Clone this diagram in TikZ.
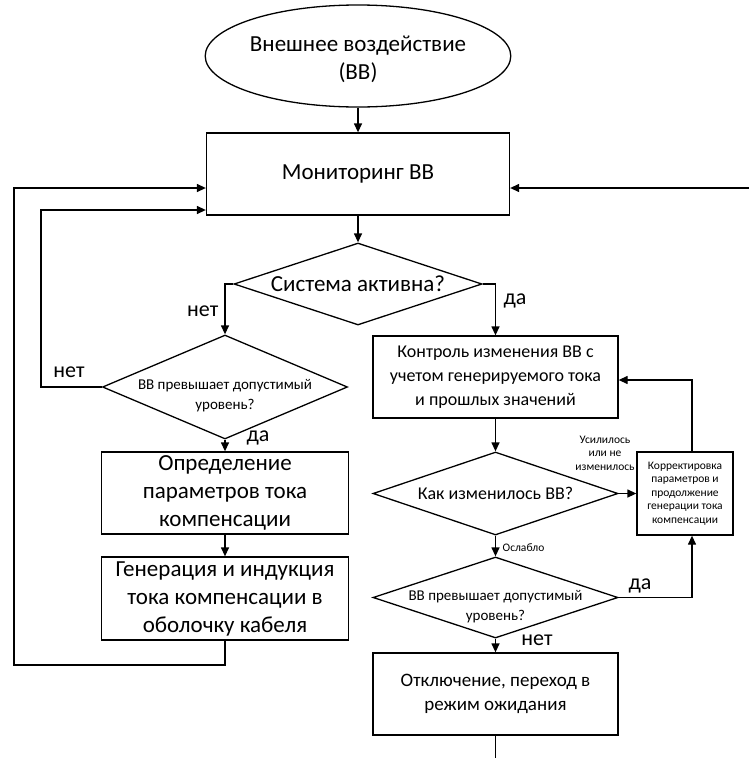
\documentclass[tikz,border=0pt]{standalone}
\usepackage{fontspec}
\setmainfont{Carlito}
\usetikzlibrary{shapes.geometric,arrows.meta}

\begin{document}
\begin{tikzpicture}[x=1pt,y=-1pt,line width=1.3pt,
  fs/.style 2 args={font=\fontsize{#1}{#2}\selectfont},
  box/.style={draw,rectangle,inner sep=0pt,align=center},
  dia/.style={draw,diamond,inner sep=0pt},
  oval/.style={draw,ellipse,inner sep=0pt,align=center},
  arr/.style={-{Triangle[length=9pt,width=8pt]}},
  qsmall/.style={fs={15}{20},align=center,yshift=-9pt},
  tag/.style={inner sep=1pt,fs={22}{24}},
  tiny/.style={inner sep=1pt,align=center,fs={11.5}{13.5}}]
\useasboundingbox (0,0) rectangle (749,758);

% start event
\node[oval,fs={23}{27},minimum width=302,minimum height=102,
  text depth=0pt] (ve) at (358,56)
  {\raisebox{-3pt}{\shortstack{Внешнее воздействие\\[4pt](ВВ)}}};
% monitoring
\node[box,fs={23}{27},minimum width=303,minimum height=82] (mon) at (358,174) {Мониторинг ВВ};
% is the system active
\node[dia,minimum width=248,minimum height=82,
  label={[fs={23}{27}]center:Система активна?}] (d1) at (358,284) {};

% left branch
\node[dia,minimum width=245,minimum height=104,
  label={[qsmall]center:{ВВ превышает допустимый\\уровень?}}] (d2) at (225,387) {};
\node[box,fs={23}{28},minimum width=247,minimum height=82] (opr) at (225,493)
  {Определение\\параметров тока\\компенсации};
\node[box,fs={23}{28},minimum width=247,minimum height=83] (gen) at (225,598.5)
  {Генерация и индукция\\тока компенсации в\\оболочку кабеля};

% right branch
\node[box,fs={18}{24},minimum width=245,minimum height=82] (ctl) at (495.5,377)
  {Контроль изменения ВВ с\\учетом генерируемого тока\\и прошлых значений};
\node[dia,minimum width=245,minimum height=83,
  label={[fs={18}{24}]center:Как изменилось ВВ?}] (d3) at (495.5,493.5) {};
\node[box,fs={11.5}{13.5},minimum width=96,minimum height=83] (kor) at (685,493.5)
  {Корректировка\\параметров и\\продолжение\\генерации тока\\компенсации};
\node[dia,minimum width=245,minimum height=81,
  label={[qsmall]center:{ВВ превышает допустимый\\уровень?}}] (d4) at (495.5,597.5) {};
\node[box,fs={19}{24},minimum width=245,minimum height=82] (off) at (495.5,694)
  {Отключение, переход в\\режим ожидания};

% helper points for the loops
\coordinate (lo1) at (14,665);
\coordinate (lo2) at (14,188);
\coordinate (li1) at (41,387);
\coordinate (li2) at (41,210);
\coordinate (rin) at (749,188);
\coordinate (k1) at (692,380);
\coordinate (bot) at (495.5,758);

% connectors
\draw[arr] (ve.south) -- (mon.north);
\draw[arr] (mon.south) -- (d1.north);
\draw[arr] (d1.west) -| (d2.north);
\draw[arr] (d1.east) -| (ctl.north);
\draw[arr] (d2.west) -- (li1) -- (li2) -- (mon.west |- li2);
\draw[arr] (d2.south) -- (opr.north);
\draw[arr] (opr.south) -- (gen.north);
\draw[arr] (gen.south) |- (lo1) -- (lo2) -- (mon.west |- lo2);
\draw[arr] (rin) -- (mon.east |- rin);
\draw[arr] (ctl.south) -- (d3.north);
\draw[arr] (d3.east) -- (kor.west);
\draw[arr] (kor.north -| k1) -- (k1) -- (ctl.east |- k1);
\draw[arr] (d3.south) -- (d4.north);
\draw[arr] (d4.east) -| (kor.south -| k1);
\draw[arr] (d4.south) -- (off.north);
\draw (off.south) -- (bot);

% branch labels
\node[tag,anchor=east] (t1) at (220,311) {нет};
\node[tag,anchor=west] (t2) at (502,301) {да};
\node[tag] (t3) at (69,372) {нет};
\node[tag,anchor=west] (t4) at (245,438) {да};
\node[tiny] (t5) at (605,453) {Усилилось\\или не\\изменилось};
\node[tiny,anchor=west] (t6) at (501,548) {Ослабло};
\node[tag] (t7) at (640,586) {да};
\node[tag] (t8) at (537,640) {нет};
\end{tikzpicture}
\end{document}
